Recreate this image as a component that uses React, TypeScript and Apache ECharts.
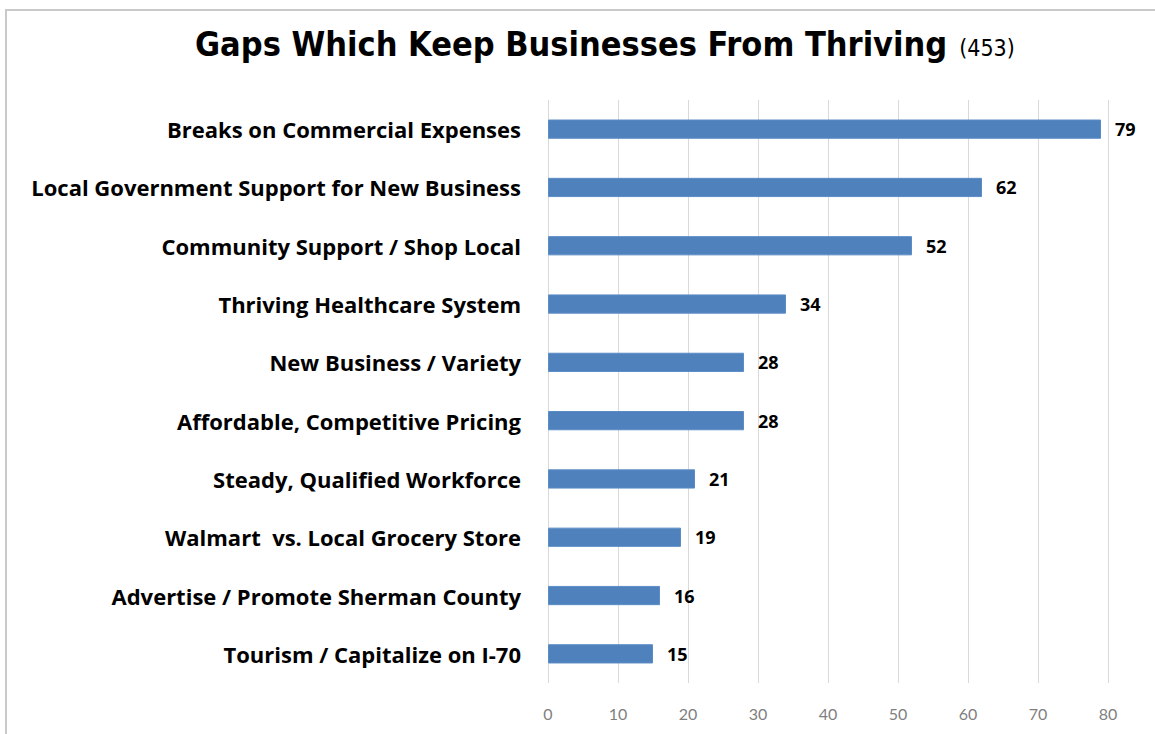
import React, { useEffect, useRef } from "react";
import * as echarts from "echarts";

const categories = [
  "Breaks on Commercial Expenses",
  "Local Government Support for New Business",
  "Community Support / Shop Local",
  "Thriving Healthcare System",
  "New Business / Variety",
  "Affordable, Competitive Pricing",
  "Steady, Qualified Workforce",
  "Walmart  vs. Local Grocery Store",
  "Advertise / Promote Sherman County",
  "Tourism / Capitalize on I-70",
];
const values = [79, 62, 52, 34, 28, 28, 21, 19, 16, 15];
const titleMain = "Gaps Which Keep Businesses From Thriving";
const titleCount = "(453)";

export default function App() {
  const ref = useRef<HTMLDivElement>(null);
  useEffect(() => {
    if (!ref.current) return;
    const chart = echarts.init(ref.current, null, { renderer: "svg" });
    chart.setOption({
      animation: false,
      backgroundColor: "#ffffff",
      title: {
        text: `{main|${titleMain}}{count|${titleCount}}`,
        left: 190,
        top: 22,
        textStyle: {
          rich: {
            main: {
              fontFamily: "DejaVu Sans Condensed",
              fontWeight: "bold",
              fontSize: 34,
              color: "#000000",
            },
            count: {
              fontFamily: "DejaVu Sans Condensed",
              fontWeight: "normal",
              fontSize: 23,
              color: "#000000",
              padding: [8, 0, 0, 12],
            },
          },
        },
      },
      graphic: [
        {
          type: "line",
          shape: { x1: 5, y1: 10, x2: 1155, y2: 10 },
          style: { stroke: "#c9c9c9", lineWidth: 2 },
        },
        {
          type: "line",
          shape: { x1: 6, y1: 10, x2: 6, y2: 734 },
          style: { stroke: "#c9c9c9", lineWidth: 2 },
        },
      ],
      grid: { left: 548, right: 47, top: 100, bottom: 51 },
      xAxis: {
        type: "value",
        min: 0,
        max: 80,
        interval: 10,
        axisLine: { show: false },
        axisTick: { show: false },
        splitLine: { lineStyle: { color: "#d9d9d9", width: 1 } },
        axisLabel: {
          color: "#7f7f7f",
          fontSize: 16,
          fontFamily: "Lato",
          margin: 22,
        },
      },
      yAxis: {
        type: "category",
        data: categories,
        inverse: true,
        axisLine: { show: false },
        axisTick: { show: false },
        axisLabel: {
          color: "#000000",
          fontWeight: "bold",
          fontSize: 22,
          fontFamily: "Open Sans",
          margin: 27,
        },
      },
      series: [
        {
          type: "bar",
          data: values,
          barWidth: "33%",
          itemStyle: { color: "#4f81bd", borderColor: "#5b8cc6", borderWidth: 1 },
          label: {
            show: true,
            position: "right",
            distance: 14,
            color: "#000000",
            fontWeight: "bold",
            fontSize: 18,
            fontFamily: "Open Sans",
          },
        },
      ],
    });
    return () => chart.dispose();
  }, []);
  return (
    <div
      ref={ref}
      style={{ position: "fixed", left: 0, top: 0, width: 1155, height: 734 }}
    />
  );
}
